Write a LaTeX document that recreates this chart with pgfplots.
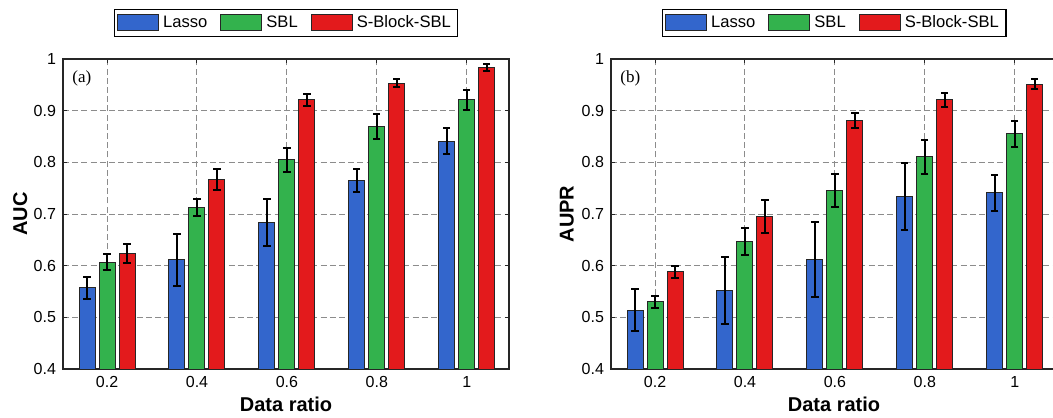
\documentclass[border=0pt]{standalone}
\usepackage{pgfplots}
\pgfplotsset{compat=1.18}
\usepackage{fontspec}
\setmainfont{Liberation Sans}
\newfontfamily\timesf{Liberation Serif}
\definecolor{cLasso}{RGB}{51,102,204}
\definecolor{cSBL}{RGB}{51,178,77}
\definecolor{cSBB}{RGB}{227,26,28}
\definecolor{edge}{RGB}{38,38,38}

\pgfplotsset{
  panel/.style={
    scale only axis, width=223pt, height=155pt,
    ybar=2pt, bar width=8pt,
    ymin=0.4, ymax=1, ytick={0.4,0.5,...,1.0},
    xmin=-0.49, xmax=4.47,
    xtick={0,1,2,3,4}, xticklabels={0.2,0.4,0.6,0.8,1},
    /pgf/number format/assume math mode=true,
    tick label style={font=\fontsize{8}{9}\selectfont},
    tick align=inside, major tick length=2.2pt,
    tick style={edge, line width=0.5pt},
    axis line style={edge, line width=0.8pt},
    grid=major,
    major grid style={gray!90, line width=0.5pt, dash pattern=on 3pt off 1.6pt},
    xlabel={\bfseries Data ratio},
    xlabel style={font=\fontsize{9}{10}\selectfont},
    ylabel style={font=\fontsize{9}{10}\selectfont},
    every axis x label/.style={at={(axis description cs:0.5,-0.137)}, anchor=base, inner sep=0pt},
    legend columns=3,
    legend style={at={(0.5,1.071)}, anchor=south, draw=black, line width=0.6pt,
      font=\fontsize{8.3}{9}\selectfont, inner xsep=1.5pt, inner ysep=1pt,
      /tikz/every even column/.append style={column sep=4.5pt}},
    legend image code/.code={\draw[#1, draw=edge, line width=0.5pt] (0pt,-4pt) rectangle (20.5pt,4pt);},
    error bars/y dir=both, error bars/y explicit,
    error bars/error mark options={rotate=90, mark size=1.8pt, line width=1pt, black},
    error bars/error bar style={line width=1pt, black},
  },
  bl/.style={fill=cLasso, draw=edge, line width=0.5pt},
  bs/.style={fill=cSBL, draw=edge, line width=0.5pt},
  br/.style={fill=cSBB, draw=edge, line width=0.5pt},
}

\begin{document}
\begin{tikzpicture}
\begin{axis}[panel, at={(31.5pt,-184.5pt)}, anchor=south west,
  ylabel={\bfseries AUC},
  every axis y label/.style={at={(axis description cs:-0.096,0.5)}, rotate=90, anchor=center}]
\addplot[bl] coordinates {(0,0.557) +- (0,0.021) (1,0.611) +- (0,0.051) (2,0.684) +- (0,0.046) (3,0.765) +- (0,0.022) (4,0.841) +- (0,0.025)};
\addplot[bs] coordinates {(0,0.607) +- (0,0.015) (1,0.713) +- (0,0.017) (2,0.805) +- (0,0.023) (3,0.870) +- (0,0.024) (4,0.921) +- (0,0.019)};
\addplot[br] coordinates {(0,0.623) +- (0,0.018) (1,0.767) +- (0,0.021) (2,0.921) +- (0,0.011) (3,0.953) +- (0,0.008) (4,0.984) +- (0,0.007)};
\legend{Lasso,SBL,S-Block-SBL}
\node[anchor=west, font=\timesf\fontsize{8.5}{9}\selectfont, inner sep=0pt] at ([xshift=4.5pt,yshift=-9.5pt]rel axis cs:0,1) {(a)};
\end{axis}
\begin{axis}[panel, at={(305.5pt,-184.5pt)}, anchor=south west,
  ylabel={\bfseries AUPR},
  every axis y label/.style={at={(axis description cs:-0.099,0.5)}, rotate=90, anchor=center}]
\addplot[bl] coordinates {(0,0.514) +- (0,0.040) (1,0.552) +- (0,0.065) (2,0.612) +- (0,0.073) (3,0.734) +- (0,0.065) (4,0.741) +- (0,0.035)};
\addplot[bs] coordinates {(0,0.530) +- (0,0.012) (1,0.646) +- (0,0.026) (2,0.745) +- (0,0.032) (3,0.811) +- (0,0.033) (4,0.855) +- (0,0.025)};
\addplot[br] coordinates {(0,0.588) +- (0,0.011) (1,0.696) +- (0,0.032) (2,0.881) +- (0,0.015) (3,0.921) +- (0,0.013) (4,0.951) +- (0,0.010)};
\legend{Lasso,SBL,S-Block-SBL}
\node[anchor=west, font=\timesf\fontsize{8.5}{9}\selectfont, inner sep=0pt] at ([xshift=4.5pt,yshift=-9.5pt]rel axis cs:0,1) {(b)};
\end{axis}
\pgfresetboundingbox
\path[use as bounding box] (0,0) rectangle (526.5pt,-208.5pt);
\end{tikzpicture}
\end{document}
